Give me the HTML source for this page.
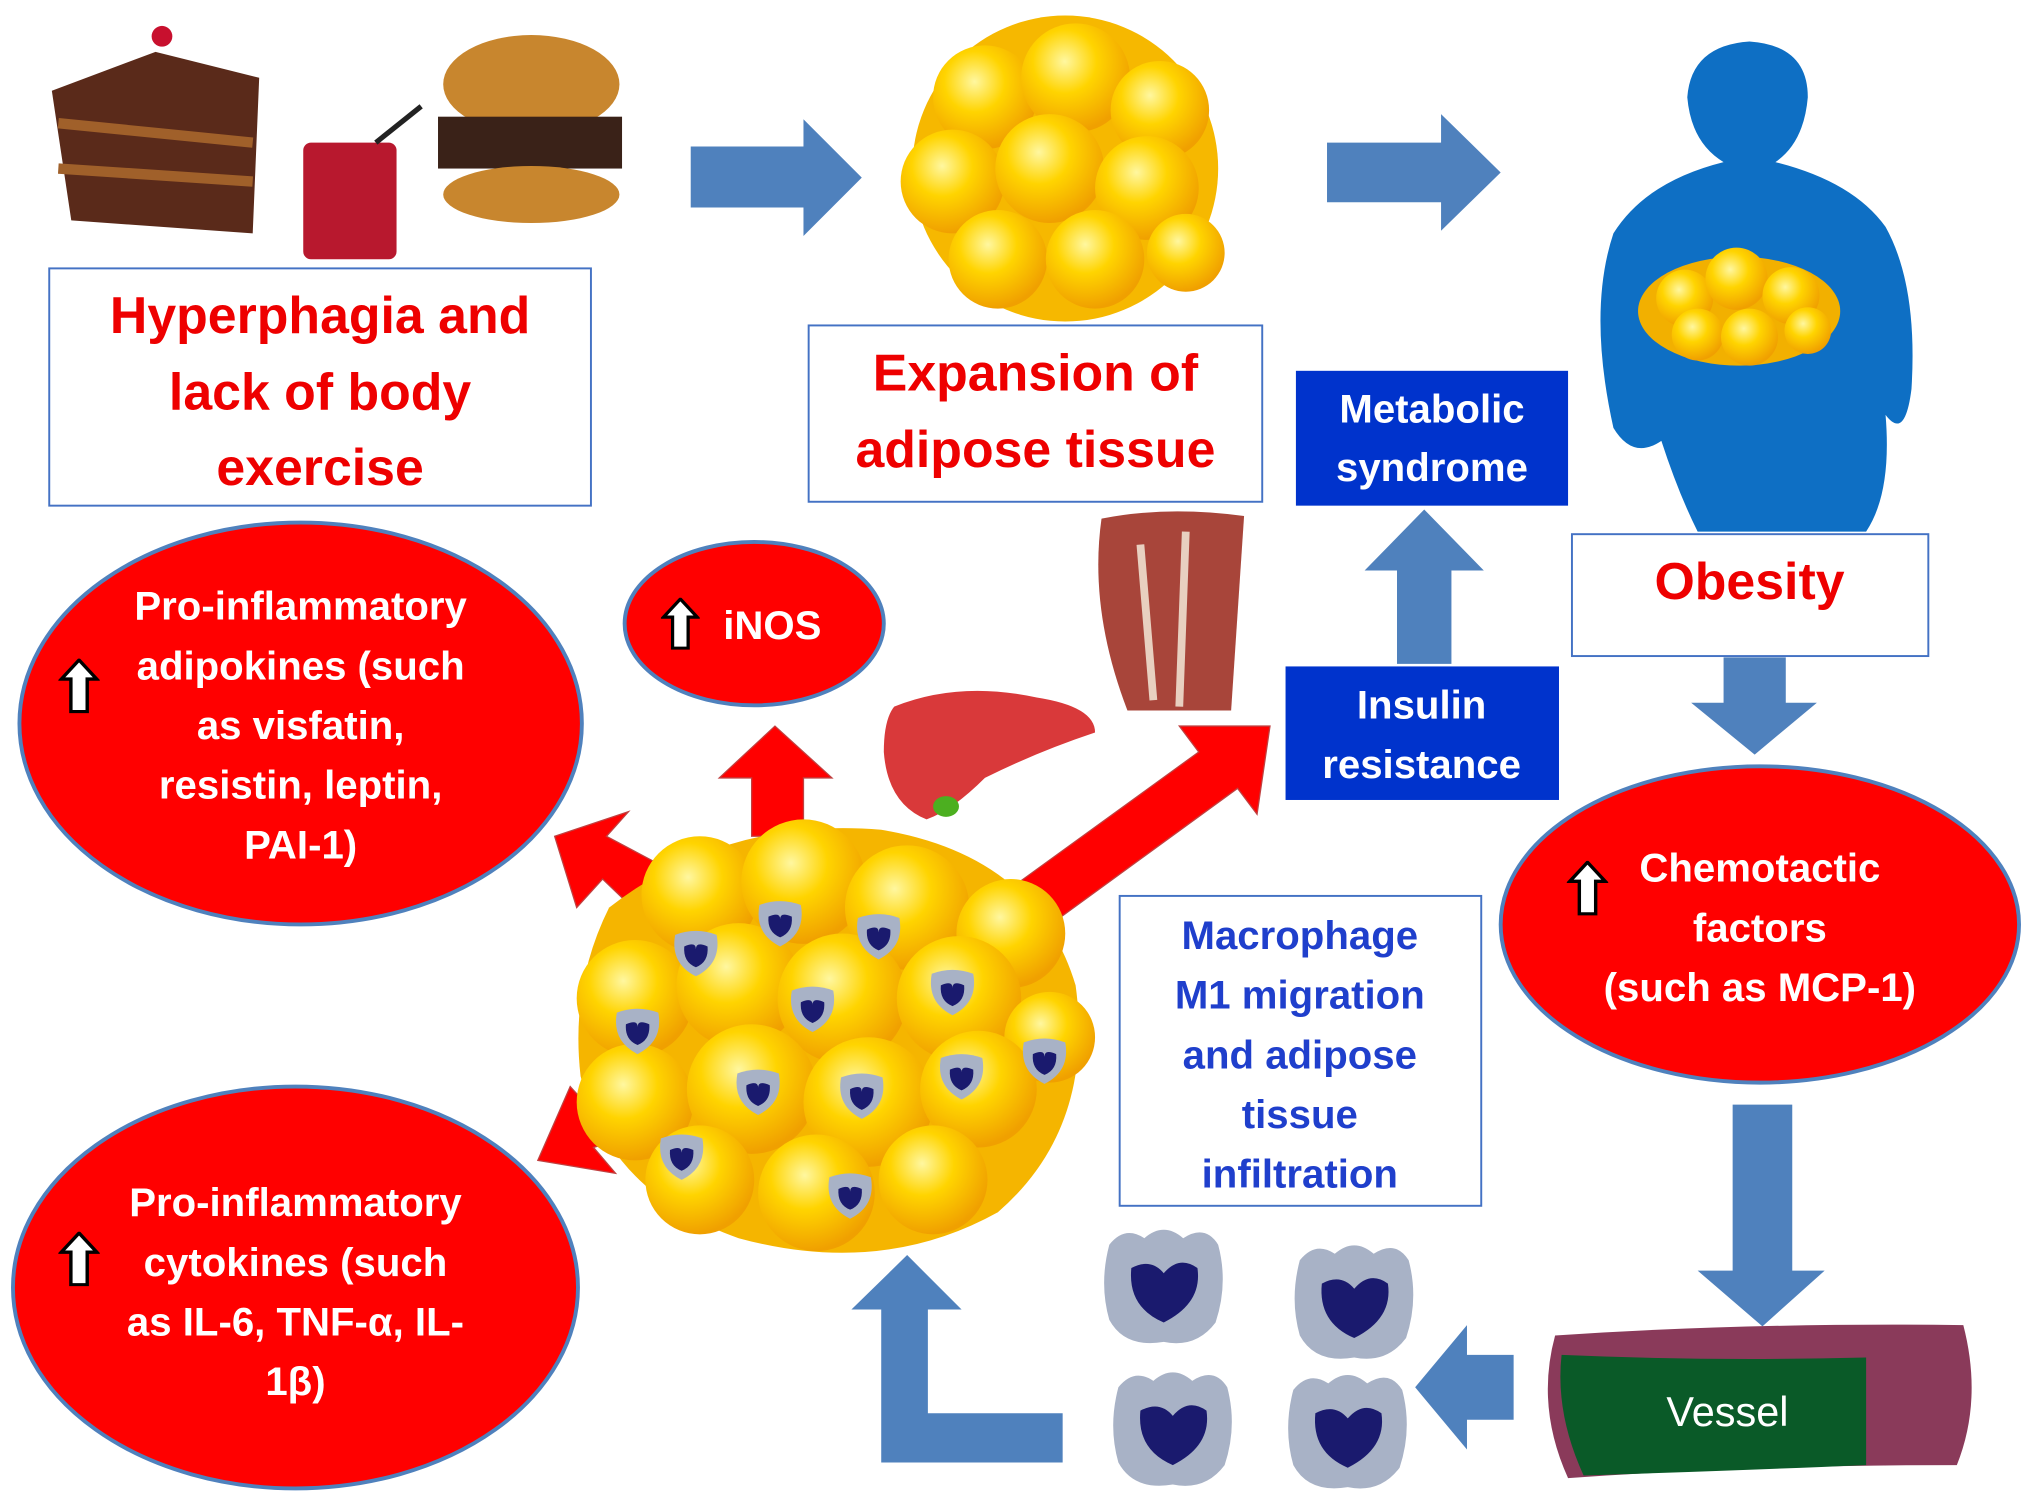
<!DOCTYPE html>
<html><head><meta charset="utf-8"><style>
html,body{margin:0;padding:0;background:#fff;}
svg{display:block;}
text{font-family:"Liberation Sans Narrow","Liberation Sans",sans-serif;font-weight:bold;}
</style></head><body>
<svg width="2032" height="1504" viewBox="0 0 1568 1160" preserveAspectRatio="none" xmlns="http://www.w3.org/2000/svg">
<defs>
<radialGradient id="fat" cx="0.4" cy="0.35" r="0.65">
<stop offset="0" stop-color="#fff7a0"/><stop offset="0.45" stop-color="#ffd400"/><stop offset="1" stop-color="#f0a000"/>
</radialGradient>
<symbol id="up" viewBox="0 0 30 40"><path d="M15 1 L28 15 L21 15 L21 39 L9 39 L9 15 L2 15 Z" fill="#fff" stroke="#000" stroke-width="2.5"/></symbol>
<g id="mac"><path d="M-42 -30 Q-30 -45 -15 -35 Q0 -48 15 -35 Q32 -46 42 -30 Q50 0 40 30 Q25 50 0 45 Q-30 50 -42 28 Q-50 0 -42 -30Z" fill="#a8b2c6"/><path d="M-25 -12 Q-10 -20 0 -8 Q12 -22 26 -12 Q30 15 0 30 Q-28 18 -25 -12Z" fill="#1a1a6e"/></g>
<g id="smac"><path d="M-16 -14 Q0 -20 16 -14 Q20 8 0 18 Q-20 8 -16 -14Z" fill="#a8b2c6"/><path d="M-9 -5 Q0 -9 0 -3 Q0 -9 9 -5 Q10 7 0 11 Q-10 7 -9 -5Z" fill="#1a1a6e"/></g>
</defs>

<!-- food -->
<path d="M40 70 L120 40 L200 60 L195 180 L55 170 Z" fill="#5a2a1a"/>
<path d="M45 95 L195 110 M45 130 L195 140" stroke="#a0602a" stroke-width="8"/>
<circle cx="125" cy="28" r="8" fill="#c8102e"/>
<rect x="234" y="110" width="72" height="90" rx="6" fill="#b8182e"/>
<line x1="290" y1="110" x2="325" y2="82" stroke="#222" stroke-width="4"/>
<ellipse cx="410" cy="65" rx="68" ry="38" fill="#c8862e"/>
<rect x="338" y="90" width="142" height="40" fill="#3a2218"/>
<ellipse cx="410" cy="150" rx="68" ry="22" fill="#c8862e"/>

<!-- top fat cluster -->
<g>
<circle cx="822" cy="130" r="118" fill="#f6b800"/>
<g fill="url(#fat)">
<circle cx="760" cy="75" r="40"/><circle cx="830" cy="60" r="42"/><circle cx="895" cy="85" r="38"/>
<circle cx="735" cy="140" r="40"/><circle cx="810" cy="130" r="42"/><circle cx="885" cy="145" r="40"/>
<circle cx="770" cy="200" r="38"/><circle cx="845" cy="200" r="38"/><circle cx="915" cy="195" r="30"/>
</g></g>

<!-- body silhouette -->
<path d="M1350 32 Q1395 35 1395 75 Q1392 110 1370 125 Q1430 140 1455 175 Q1480 220 1475 300 Q1470 340 1455 320 Q1460 380 1440 410 L1310 410 Q1295 380 1282 340 Q1260 355 1245 330 Q1225 240 1245 180 Q1270 140 1330 125 Q1305 110 1302 75 Q1305 35 1350 32Z" fill="#0e6fc4"/>
<g fill="url(#fat)"><ellipse cx="1342" cy="240" rx="78" ry="42" fill="#f2b000"/>
<circle cx="1300" cy="230" r="22"/><circle cx="1340" cy="215" r="24"/><circle cx="1382" cy="228" r="22"/>
<circle cx="1310" cy="258" r="20"/><circle cx="1350" cy="260" r="22"/><circle cx="1395" cy="255" r="18"/></g>

<!-- blue arrows -->
<g fill="#4f81bd">
<path d="M533 113 H620 V92 L665 137 L620 182 V160 H533Z"/>
<path d="M1024 110 H1112 V88 L1158 133 L1112 178 V156 H1024Z"/>
<path d="M1078 512 V440 H1053 L1099 393 L1145 440 H1120 V512Z"/>
<path d="M1330 507 H1378 V542 H1402 L1354 582 L1305 542 H1330Z"/>
<path d="M1337 852 H1383 V980 H1408 L1360 1023 L1310 980 H1337Z"/>
<path d="M1168 1045 V1095 H1132 V1118 L1092 1070 L1132 1022 V1045Z"/>
<path d="M680 1128 V1010 H657 L700 968 L742 1010 H716 V1090 H820 V1128Z"/>
</g>

<!-- boxes -->
<rect x="38" y="207" width="418" height="183" fill="#fff" stroke="#4472c4" stroke-width="1.5"/>
<g fill="#e00" font-size="40" text-anchor="middle">
<text x="247" y="257">Hyperphagia and</text><text x="247" y="316">lack of body</text><text x="247" y="374">exercise</text></g>
<rect x="624" y="251" width="350" height="136" fill="#fff" stroke="#4472c4" stroke-width="1.5"/>
<g fill="#e00" font-size="40" text-anchor="middle">
<text x="799" y="301">Expansion of</text><text x="799" y="360">adipose tissue</text></g>
<rect x="1000" y="286" width="210" height="104" fill="#0033cc"/>
<g fill="#fff" font-size="31" text-anchor="middle"><text x="1105" y="326">Metabolic</text><text x="1105" y="371">syndrome</text></g>
<rect x="992" y="514" width="211" height="103" fill="#0033cc"/>
<g fill="#fff" font-size="31" text-anchor="middle"><text x="1097" y="554">Insulin</text><text x="1097" y="600">resistance</text></g>
<rect x="1213" y="412" width="275" height="94" fill="#fff" stroke="#4472c4" stroke-width="1.5"/>
<text x="1350" y="462" fill="#e00" font-size="40" text-anchor="middle">Obesity</text>
<rect x="864" y="691" width="279" height="239" fill="#fff" stroke="#4472c4" stroke-width="1.5"/>
<g fill="#1f3fcc" font-size="31" text-anchor="middle">
<text x="1003" y="732">Macrophage</text><text x="1003" y="778">M1 migration</text><text x="1003" y="824">and adipose</text><text x="1003" y="870">tissue</text><text x="1003" y="916">infiltration</text></g>

<!-- muscle & liver -->
<path d="M850 400 Q900 390 960 398 L950 548 L870 548 Q840 470 850 400Z" fill="#a8453a"/>
<path d="M880 420 L890 540 M915 410 L910 545" stroke="#e8d0c0" stroke-width="6"/>
<path d="M690 545 Q740 525 800 538 Q845 545 845 565 Q800 580 760 600 Q735 625 715 632 Q685 620 682 580 Q682 555 690 545Z" fill="#d9393a"/>
<ellipse cx="730" cy="622" rx="10" ry="8" fill="#4caf20"/>

<!-- red arrows -->
<g fill="#f00" stroke="#c04040" stroke-width="1">
<path d="M515 670 L488 700 L465 678 L445 700 L428 645 L485 626 L468 645 Z"/>
<path d="M580 645 V600 H555 L598 560 L642 600 H620 V645Z"/>
<path d="M780 685 L925 580 L910 560 L980 560 L970 628 L955 608 L808 715Z"/>
<path d="M495 850 L470 825 L460 860 L440 838 L415 895 L475 905 L458 885 L505 870 Z"/>
</g>

<!-- central cluster -->
<g>
<path d="M470 700 Q560 630 680 640 Q800 660 830 760 Q845 870 770 935 Q680 985 570 955 Q470 920 448 830 Q440 760 470 700Z" fill="#f5b500"/>
<g fill="url(#fat)">
<circle cx="540" cy="690" r="45"/><circle cx="620" cy="680" r="48"/><circle cx="700" cy="700" r="48"/><circle cx="780" cy="720" r="42"/>
<circle cx="490" cy="770" r="45"/><circle cx="570" cy="760" r="48"/><circle cx="650" cy="770" r="50"/><circle cx="740" cy="770" r="48"/><circle cx="810" cy="800" r="35"/>
<circle cx="490" cy="850" r="45"/><circle cx="580" cy="840" r="50"/><circle cx="670" cy="850" r="50"/><circle cx="755" cy="840" r="45"/>
<circle cx="540" cy="910" r="42"/><circle cx="630" cy="920" r="45"/><circle cx="720" cy="910" r="42"/>
</g>
<use href="#smac" x="602" y="712"/><use href="#smac" x="678" y="722"/><use href="#smac" x="537" y="735"/><use href="#smac" x="735" y="765"/>
<use href="#smac" x="627" y="778"/><use href="#smac" x="492" y="795"/><use href="#smac" x="585" y="842"/><use href="#smac" x="665" y="845"/>
<use href="#smac" x="742" y="830"/><use href="#smac" x="806" y="818"/><use href="#smac" x="526" y="892"/><use href="#smac" x="656" y="922"/>
</g>

<!-- red ellipses -->
<g fill="#f00" stroke="#4f81bd" stroke-width="3">
<ellipse cx="232" cy="558" rx="217" ry="155"/>
<ellipse cx="582" cy="481" rx="100" ry="63"/>
<ellipse cx="1358" cy="713" rx="200" ry="122"/>
<ellipse cx="228" cy="993" rx="218" ry="155"/>
</g>
<g fill="#fff" font-size="31" text-anchor="middle">
<text x="232" y="478">Pro-inflammatory</text><text x="232" y="524">adipokines (such</text><text x="232" y="570">as visfatin,</text><text x="232" y="616">resistin, leptin,</text><text x="232" y="662">PAI-1)</text>
<text x="596" y="493">iNOS</text>
<text x="1358" y="680">Chemotactic</text><text x="1358" y="726">factors</text><text x="1358" y="772">(such as MCP-1)</text>
<text x="228" y="938">Pro-inflammatory</text><text x="228" y="984">cytokines (such</text><text x="228" y="1030">as IL-6, TNF-α, IL-</text><text x="228" y="1076">1β)</text>
</g>
<use href="#up" x="45" y="508" width="32" height="42"/>
<use href="#up" x="510" y="461" width="30" height="40"/>
<use href="#up" x="1209" y="664" width="32" height="42"/>
<use href="#up" x="45" y="950" width="32" height="42"/>

<!-- macrophages -->
<use href="#mac" x="898" y="990"/><use href="#mac" x="1045" y="1002"/>
<use href="#mac" x="905" y="1100"/><use href="#mac" x="1040" y="1102"/>

<!-- vessel -->
<path d="M1200 1030 Q1350 1020 1515 1022 Q1530 1080 1510 1130 Q1350 1130 1210 1140 Q1185 1085 1200 1030Z" fill="#8a3a5a"/>
<path d="M1205 1045 Q1320 1050 1440 1047 L1440 1130 Q1320 1135 1222 1138 Q1200 1090 1205 1045Z" fill="#0a5a28"/>
<text x="1333" y="1100" fill="#fff" font-size="32" font-weight="normal" text-anchor="middle" style="font-weight:normal">Vessel</text>
</svg>
</body></html>
